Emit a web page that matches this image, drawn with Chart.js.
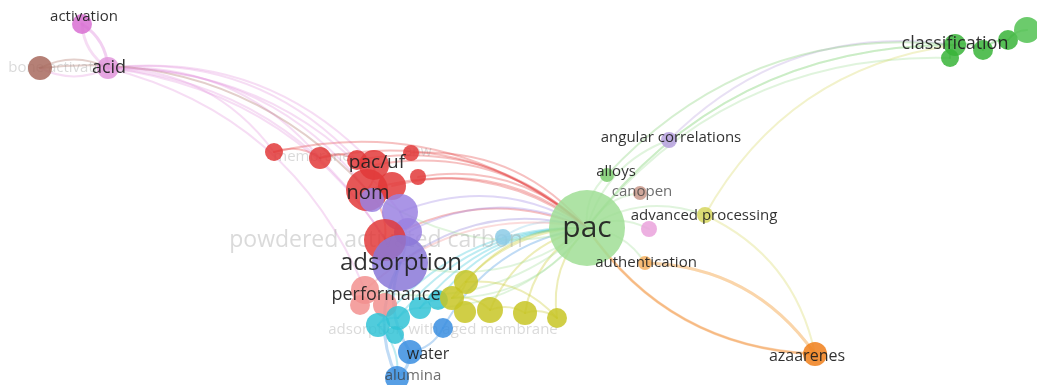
<!DOCTYPE html>
<html><head><meta charset="utf-8">
<script src="https://cdn.jsdelivr.net/npm/chart.js@4.4.1/dist/chart.umd.min.js"></script>
<style>html,body{margin:0;padding:0;background:#fff;overflow:hidden}#wrap{width:1037px;height:385px;position:relative}</style>
</head><body><div id="wrap"><canvas id="c" width="1037" height="385"></canvas></div>
<script>
// ---- data: network map nodes (map coordinates), weights, clusters ----
const nodeLabels = ['activation','acid','bone activation','','membrane','','pac/uf','anw','','nom','','','','powdered activated carbon','','adsorption','','performance','','','','','','','','adsorption with aged membrane','water','alumina','','','','','','','pac','alloys','angular correlations','canopen','advanced processing','','authentication','azaarenes','','classification','','',''];
const nodeX = [82,108,40,274,320,357,374,411,418,367,392,400,408,385,372,400,503,365,385,360,378,398,420,438,395,443,410,397,466,452,465,490,525,557,587,607,669,640,705,649,645,815,950,955,983,1008,1027];
const nodeY = [24,68,68,152,158,160,165,153,177,190,186,212,232,240,200,263,237,290,305,305,325,318,308,300,335,328,352,378,282,298,312,310,313,318,228,175,140,193,215,229,263,354,58,45,50,40,30];
const nodeWeight = [10,11,12,9,11,10,15,8,8,21,14,18,14,21,12,28,8,14,12,10,12,12,11,10,9,10,12,12,12,12,11,13,12,10,38,7,8,7,8,8,7,12,9,11,10,10,13];
const nodeCluster = [0,1,2,3,3,3,3,3,3,3,3,4,4,3,4,5,6,7,7,7,8,8,8,8,8,9,9,9,10,10,10,10,10,10,11,12,13,14,15,16,17,18,19,19,19,19,20];
const edgeFrom = [0,1,2,1,1,1,1,1,1,1,1,2,3,4,6,9,13,7,8,10,5,15,16,17,20,21,22,23,25,28,29,31,32,33,11,12,34,34,34,34,34,34,38,34,34,34,34,34,34,34,38,36,28,29,31,32,28,25,26,27,26,20,20,21,22,42,43,44,45,3,4,5,6,9,11,40,41,34,35,40,41,1,1];
const edgeTo   = [1,0,1,2,3,4,6,9,13,15,5,9,34,34,34,34,34,34,34,34,34,34,34,34,34,34,34,34,34,34,34,34,34,34,34,34,35,36,37,38,39,40,41,43,42,43,15,9,17,22,43,43,29,31,32,33,33,26,27,15,15,27,21,22,23,43,44,45,46,4,5,6,9,13,15,41,34,29,43,41,34,17,11];
const edgeWeight = [3,3,2,2,2,2,2,2,2,2,2,2,2,2,2,2,2,2,2,2,2,2,2,2,2,2,2,2,2,2,2,2,2,2,2,2,2,2,2,2,2,2,2,2,2,2,2,2,2,2,2,2,2,2,2,2,2,2,3,3,3,2,2,2,2,2,2,2,2,2,2,2,2,2,2,3,3,2,2,3,2,2,2];

// ---- styles ----
const clusterColors = ['#d86ed2','#e296dc','#a86a5e','#e23a3a','#9b82e2','#8a78d8','#8ccbe6','#f2908f','#33c3d6','#3a8ee0','#c8c626','#a0de95','#7ccc6e','#b6a0de','#c8988a','#d6d65e','#eaa2dc','#f6b060','#f07f1a','#38b438','#52c252'];
const labelStyle = {
  0:{dx:2,dy:-7,size:15}, 1:{dx:1,size:18}, 2:{dx:22,size:15,faint:true},
  4:{dx:-8,dy:-1,size:15,faint:true}, 6:{dx:3,dy:-2,size:19}, 7:{dx:7,dy:-1,size:14,faint:true},
  9:{dx:1,dy:3,size:20}, 13:{dx:-9,dy:0,size:23,faint:true}, 15:{dx:1,size:24},
  17:{dx:21,dy:5,size:18}, 25:{dx:0,dy:2,size:15,faint:true}, 26:{dx:18,dy:2,size:16},
  27:{dx:16,dy:-2,size:15,grey:true}, 34:{size:30}, 35:{dx:9,dy:-3,size:15},
  36:{dx:2,dy:-2,size:15}, 37:{dx:2,dy:-1,size:15,grey:true}, 38:{dx:-1,dy:1,size:15},
  40:{dx:1,size:15}, 41:{dx:-8,dy:2,size:16}, 43:{dy:-1,size:18}
};
function rgba(hex,a){const n=parseInt(hex.slice(1),16);return `rgba(${n>>16&255},${n>>8&255},${n&255},${a})`;}

function drawLabels(chart, faintPass){
  const ctx=chart.ctx, xs=chart.scales.x, ys=chart.scales.y;
  ctx.save(); ctx.textAlign='center'; ctx.textBaseline='middle';
  for(let i=0;i<nodeLabels.length;i++){
    const t=nodeLabels[i]; if(!t) continue;
    const s=labelStyle[i]||{size:15};
    if(!!s.faint!==faintPass) continue;
    const x=xs.getPixelForValue(nodeX[i])+(s.dx||0), y=ys.getPixelForValue(nodeY[i])+(s.dy||0);
    ctx.font=`${s.size}px "Open Sans", "Noto Sans", sans-serif`;
    ctx.fillStyle = s.faint ? 'rgba(150,150,150,0.35)' : s.grey ? 'rgba(60,60,60,0.75)' : 'rgba(30,30,30,0.92)';
    ctx.fillText(t,x,y);
  }
  ctx.restore();
}
const edgePlugin = {
  id:'edges',
  beforeDatasetsDraw(chart){
    const ctx=chart.ctx, xs=chart.scales.x, ys=chart.scales.y;
    ctx.save(); ctx.lineCap='round';
    for(let i=0;i<edgeFrom.length;i++){
      const a=edgeFrom[i], b=edgeTo[i];
      const x1=xs.getPixelForValue(nodeX[a]), y1=ys.getPixelForValue(nodeY[a]);
      const x2=xs.getPixelForValue(nodeX[b]), y2=ys.getPixelForValue(nodeY[b]);
      const dx=x2-x1, dy=y2-y1, k=0.25;
      const cx=(x1+x2)/2+dy*k, cy=(y1+y2)/2-dx*k;
      ctx.strokeStyle=rgba(clusterColors[nodeCluster[a]],0.32);
      ctx.lineWidth=edgeWeight[i];
      ctx.beginPath(); ctx.moveTo(x1,y1); ctx.quadraticCurveTo(cx,cy,x2,y2); ctx.stroke();
    }
    ctx.restore();
    drawLabels(chart,true);
  }
};
const labelPlugin = { id:'labels', afterDatasetsDraw(chart){ drawLabels(chart,false); } };

new Chart(document.getElementById('c'),{
  type:'bubble',
  data:{datasets:[{
    data:nodeX.map((x,i)=>({x:x,y:nodeY[i],r:nodeWeight[i]})),
    backgroundColor:nodeCluster.map(c=>rgba(clusterColors[c],0.85)),
    borderWidth:0, hoverRadius:0, clip:false
  }]},
  options:{
    responsive:false, animation:false, devicePixelRatio:1,
    layout:{padding:0, autoPadding:false},
    plugins:{legend:{display:false},tooltip:{enabled:false}},
    scales:{
      x:{type:'linear',min:0,max:1037,display:false},
      y:{type:'linear',min:0,max:385,reverse:true,display:false}
    }
  },
  plugins:[edgePlugin,labelPlugin]
});
</script></body></html>
